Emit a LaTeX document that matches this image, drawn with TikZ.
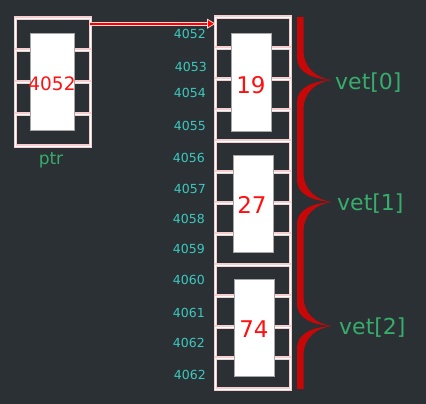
\documentclass[tikz,border=0pt]{standalone}
\usepackage{fontspec}
\setmainfont{DejaVu Sans}
\usetikzlibrary{arrows.meta}
\definecolor{bg}{HTML}{2A3034}
\definecolor{addr}{HTML}{3EC8BE}
\definecolor{lbl}{HTML}{38AC6C}
\definecolor{cellpink}{HTML}{F5CFCF}
\definecolor{bracered}{HTML}{C80808}
\definecolor{valred}{HTML}{FF1010}
\tikzset{
  cell/.style={draw=cellpink, line width=1.1pt, double=white, double distance=0.9pt,
    minimum width=75pt, inner sep=0pt, outer sep=0pt},
  vcell/.style={cell, minimum height=31pt},
  pcell/.style={cell, minimum height=32pt},
  inner/.style={fill=white, draw=gray!70, line width=0.6pt, inner sep=0pt, outer sep=0pt},
  addrlbl/.style={text=addr, anchor=base east, inner sep=0pt, font=\fontsize{12.5}{14}\selectfont},
  val/.style={text=valred, anchor=base, inner sep=0pt, font=\fontsize{23}{26}\selectfont},
  vetlbl/.style={text=lbl, anchor=base west, inner sep=0pt, font=\fontsize{22}{25}\selectfont},
  bracefill/.style={fill=bracered},
}
\begin{document}
\begin{tikzpicture}[x=1pt,y=-1pt]
\useasboundingbox (0,0) rectangle (426,404);
\fill[bg] (0,0) rectangle (426,404);

% ptr cells
\foreach \k in {0,...,3}{
  \node[pcell] (p\k) at (52.75,{34+32*\k}) {};
}
\node[inner, minimum width=44pt, minimum height=97pt] (pin) at (52,81.5) {};
\node[val, font=\fontsize{18.5}{22}\selectfont] (pval) at (52,91) {4052};
\node[text=lbl, anchor=base, inner sep=0pt, font=\fontsize{17}{20}\selectfont] (ptrlbl) at (51,164) {ptr};

% vet cells
\foreach \k in {1,...,12}{
  \node[vcell] (c\k) at (253,{17+31*(\k-1)+15.5}) {};
}
\node[inner, minimum width=40pt, minimum height=98pt] (v0) at (251,82) {};
\node[inner, minimum width=40pt, minimum height=97pt] (v1) at (253,203.5) {};
\node[inner, minimum width=40pt, minimum height=97pt] (v2) at (254,327.5) {};
\node[val] (n0) at (251,93) {19};
\node[val] (n1) at (252,213) {27};
\node[val] (n2) at (254,337) {74};

% addresses
\node[addrlbl] (a1) at (206,39) {4052};
\node[addrlbl] (a2) at (207,72) {4053};
\node[addrlbl] (a3) at (206,97) {4054};
\node[addrlbl] (a4) at (206,130) {4055};
\node[addrlbl] (a5) at (205,162) {4056};
\node[addrlbl] (a6) at (206,193) {4057};
\node[addrlbl] (a7) at (205,223) {4058};
\node[addrlbl] (a8) at (205,253) {4059};
\node[addrlbl] (a9) at (205,284) {4060};
\node[addrlbl] (a10) at (205,317) {4061};
\node[addrlbl] (a11) at (205,347) {4062};
\node[addrlbl] (a12) at (206,379) {4062};

% braces (tapered, filled)
\foreach \t/\m/\b in {17/80/141, 141/202/265, 265/326/389}{
  \fill[bracefill] (297,\t) -- (297,{\m-22})
     .. controls (297,{\m-8}) and (312,{\m-1}) .. (332,\m)
     .. controls (312,{\m+1}) and (297,{\m+8}) .. (297,{\m+22})
     -- (297,\b) -- (303.5,\b) -- (303.5,{\m+30})
     .. controls (303.5,{\m+12}) and (316,{\m+2}) .. (332,\m)
     .. controls (316,{\m-2}) and (303.5,{\m-12}) .. (303.5,{\m-30})
     -- (303.5,\t) -- cycle;
}
\node[vetlbl] (l0) at (335,90) {vet[0]};
\node[vetlbl] (l1) at (337,210) {vet[1]};
\node[vetlbl] (l2) at (339,334) {vet[2]};

% arrow
\coordinate (as) at ([yshift=-5.7pt]p0.north east);
\coordinate (ae) at (c1.west |- as);
\draw[white!85!red, line width=4pt] (as) -- ([xshift=-7pt]ae);
\draw[red, line width=1.8pt, -{Triangle[length=8.5pt,width=10pt,fill=red,color=white!85!red,line width=0.8pt]}] (as) -- (ae);
\end{tikzpicture}
\end{document}
